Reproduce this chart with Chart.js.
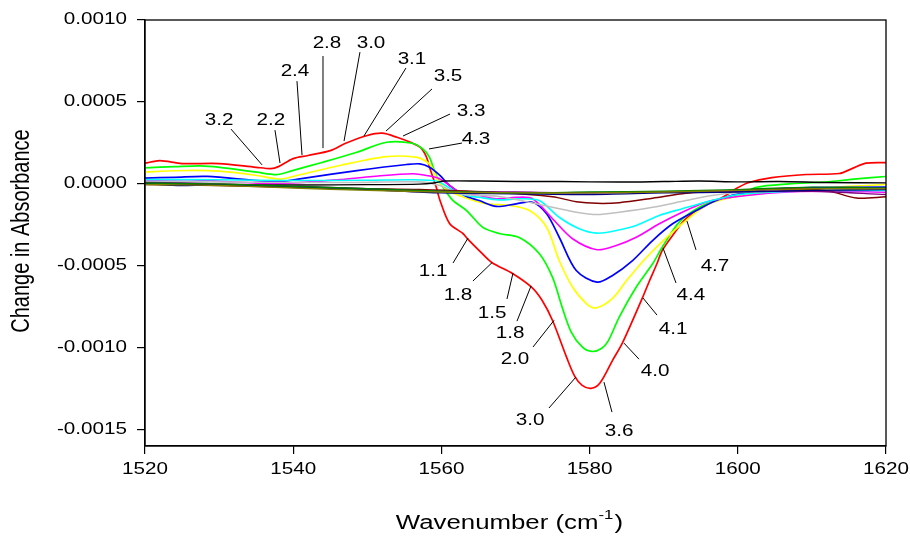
<!DOCTYPE html>
<html>
<head>
<meta charset="utf-8">
<script src="https://cdn.jsdelivr.net/npm/chart.js@4.4.1/dist/chart.umd.min.js"></script>
<style>
  html, body { margin: 0; padding: 0; background: #ffffff; }
  #wrap { width: 910px; height: 537px; }
</style>
</head>
<body>
<div id="wrap"><canvas id="c" width="910" height="537"></canvas></div>
<script>
// Axis ticks
const wavenumberTicks = [1520, 1540, 1560, 1580, 1600, 1620];
const wavenumberTickLabels = ['1520', '1540', '1560', '1580', '1600', '1620'];
const absorbanceTicks = [-0.0015, -0.0010, -0.0005, 0, 0.0005, 0.0010];
const absorbanceTickLabels = ['-0.0015', '-0.0010', '-0.0005', '0.0000', '0.0005', '0.0010'];

// Difference spectra (wavenumber in cm-1, change in absorbance)
const redWn  = [1520, 1522, 1525, 1530, 1535, 1537, 1538, 1540, 1542, 1545, 1547, 1550, 1552, 1554, 1556, 1557.2, 1558, 1558.4, 1558.85, 1559.3, 1559.8, 1561.1, 1562.9, 1563.5, 1565.1, 1566.8, 1569.6, 1572.2, 1573.6, 1575, 1576.9, 1578, 1579, 1580.2, 1581.4, 1583.1, 1584.4, 1587.1, 1588.1, 1589.1, 1589.8, 1591.2, 1593, 1595.7, 1597.9, 1599.8, 1601.5, 1604.6, 1609.2, 1613.7, 1615.4, 1617.3, 1620];
const redAbs = [1.26e-4, 1.42e-4, 1.24e-4, 1.24e-4, 1.01e-4, 0.93e-4, 1.05e-4, 1.54e-4, 1.73e-4, 2.03e-4, 2.46e-4, 2.95e-4, 3.09e-4, 2.84e-4, 2.50e-4, 2.21e-4, 1.62e-4, 1.01e-4, 0.40e-4, -0.20e-4, -1.0e-4, -2.42e-4, -3.03e-4, -3.34e-4, -4.07e-4, -4.80e-4, -5.47e-4, -6.32e-4, -7.12e-4, -8.34e-4, -10.59e-4, -11.75e-4, -12.30e-4, -12.48e-4, -12.15e-4, -10.77e-4, -9.74e-4, -6.99e-4, -5.90e-4, -4.86e-4, -4.07e-4, -3.15e-4, -2.12e-4, -1.32e-4, -0.84e-4, -0.29e-4, 0.08e-4, 0.38e-4, 0.57e-4, 0.63e-4, 0.93e-4, 1.26e-4, 1.30e-4];

const greenWn  = [1520, 1524, 1527.4, 1530.1, 1535.1, 1537.9, 1539.9, 1544, 1548.6, 1552.6, 1556.1, 1557.5, 1558.4, 1558.9, 1559.5, 1560.2, 1561.5, 1563.4, 1565.6, 1567.8, 1570.5, 1573.2, 1575, 1576.3, 1577.5, 1579, 1580.3, 1581.6, 1582.5, 1584, 1586.3, 1588.5, 1589.8, 1592.1, 1594.8, 1597.5, 1600.2, 1602.5, 1606.9, 1611.4, 1616, 1620];
const greenAbs = [0.98e-4, 1.05e-4, 1.10e-4, 1.01e-4, 0.71e-4, 0.57e-4, 0.81e-4, 1.32e-4, 1.93e-4, 2.54e-4, 2.48e-4, 2.13e-4, 1.62e-4, 1.00e-4, 0.30e-4, -0.20e-4, -0.99e-4, -1.63e-4, -2.66e-4, -3.03e-4, -3.27e-4, -4.25e-4, -5.71e-4, -7.54e-4, -9.03e-4, -9.95e-4, -10.23e-4, -10.05e-4, -9.60e-4, -8.13e-4, -6.30e-4, -4.88e-4, -3.87e-4, -2.34e-4, -1.43e-4, -0.98e-4, -0.71e-4, -0.21e-4, 0.0, 0.10e-4, 0.30e-4, 0.45e-4];

const yellowWn  = [1520, 1524, 1528.4, 1532, 1535.1, 1538.2, 1540.5, 1546.3, 1552.6, 1556.7, 1558.1, 1558.8, 1559.5, 1560.8, 1563.2, 1566.1, 1569.2, 1571.9, 1574.2, 1575.9, 1577.7, 1579.6, 1580.9, 1583.1, 1585, 1587.7, 1590.4, 1593, 1595.7, 1599.2, 1604.6, 1609.6, 1615, 1620];
const yellowAbs = [0.72e-4, 0.80e-4, 0.81e-4, 0.70e-4, 0.51e-4, 0.29e-4, 0.51e-4, 1.12e-4, 1.66e-4, 1.62e-4, 1.32e-4, 0.96e-4, 0.23e-4, -0.38e-4, -0.85e-4, -1.22e-4, -1.32e-4, -1.63e-4, -2.65e-4, -4.68e-4, -6.30e-4, -7.32e-4, -7.57e-4, -6.99e-4, -5.90e-4, -4.48e-4, -3.26e-4, -2.24e-4, -1.32e-4, -0.82e-4, -0.51e-4, -0.30e-4, -0.16e-4, -0.04e-4];

const blueWn  = [1520, 1524, 1528.4, 1535.1, 1538.2, 1541.8, 1548.6, 1555.3, 1557.1, 1558.4, 1559.8, 1561.1, 1563.1, 1565.1, 1567.4, 1570.1, 1572.3, 1574.2, 1575.9, 1578.2, 1581, 1583.1, 1585.8, 1588.5, 1591.2, 1594.4, 1597.1, 1600.2, 1605.6, 1611, 1620];
const blueAbs = [0.35e-4, 0.40e-4, 0.45e-4, 0.20e-4, 0.14e-4, 0.37e-4, 0.81e-4, 1.18e-4, 1.22e-4, 1.01e-4, 0.51e-4, -0.10e-4, -0.71e-4, -1.02e-4, -1.38e-4, -1.22e-4, -1.12e-4, -1.83e-4, -3.26e-4, -5.29e-4, -6.00e-4, -5.59e-4, -4.68e-4, -3.46e-4, -2.44e-4, -1.63e-4, -1.02e-4, -0.60e-4, -0.30e-4, -0.23e-4, -0.20e-4];

const magentaWn  = [1520, 1526, 1532.8, 1538.2, 1546.3, 1550.7, 1556.1, 1558, 1559.8, 1562.5, 1565.1, 1567.4, 1570.1, 1572.3, 1575, 1577.7, 1581, 1583.6, 1586.3, 1589.4, 1592.5, 1595.7, 1599.2, 1605.6, 1612, 1620];
const magentaAbs = [0.20e-4, 0.25e-4, 0.10e-4, 0.02e-4, 0.26e-4, 0.45e-4, 0.62e-4, 0.51e-4, 0.30e-4, -0.51e-4, -0.71e-4, -0.91e-4, -0.82e-4, -0.91e-4, -2.13e-4, -3.35e-4, -4.02e-4, -3.76e-4, -3.26e-4, -2.44e-4, -1.73e-4, -1.12e-4, -0.82e-4, -0.53e-4, -0.45e-4, -0.51e-4];

const cyanWn  = [1520, 1530, 1539.5, 1550, 1556, 1558.8, 1559.8, 1562.5, 1565.1, 1567.8, 1570.5, 1573.2, 1575.9, 1578.6, 1581, 1583.6, 1586.3, 1589.4, 1592.5, 1596.5, 1600.2, 1608, 1620];
const cyanAbs = [0.26e-4, 0.25e-4, 0.20e-4, 0.22e-4, 0.25e-4, 0.20e-4, 0.10e-4, -0.61e-4, -0.82e-4, -0.98e-4, -0.91e-4, -1.02e-4, -2.04e-4, -2.74e-4, -3.01e-4, -2.85e-4, -2.54e-4, -1.93e-4, -1.52e-4, -1.02e-4, -0.65e-4, -0.45e-4, -0.40e-4];

const grayWn  = [1520, 1535, 1547.6, 1557, 1559.8, 1562.5, 1567.8, 1575, 1578.2, 1581, 1584, 1588.5, 1593, 1596.5, 1600.2, 1610, 1620];
const grayAbs = [0.14e-4, 0.10e-4, 0.08e-4, 0.12e-4, -0.10e-4, -0.61e-4, -0.77e-4, -1.43e-4, -1.73e-4, -1.87e-4, -1.73e-4, -1.43e-4, -1.02e-4, -0.71e-4, -0.53e-4, -0.40e-4, -0.30e-4];

const maroonWn  = [1520, 1530, 1540.9, 1550, 1557, 1567.8, 1575, 1578.2, 1581, 1584, 1588.5, 1593, 1596.5, 1600.2, 1608.3, 1612.3, 1616, 1620];
const maroonAbs = [-0.04e-4, -0.10e-4, -0.22e-4, -0.30e-4, -0.35e-4, -0.53e-4, -0.79e-4, -1.09e-4, -1.19e-4, -1.15e-4, -0.88e-4, -0.58e-4, -0.48e-4, -0.38e-4, -0.32e-4, -0.44e-4, -0.87e-4, -0.79e-4];

const blackWn  = [1520, 1530, 1540.9, 1550, 1557, 1559, 1560.4, 1565.1, 1570, 1576, 1584, 1590, 1594.8, 1600, 1605.6, 1612, 1620];
const blackAbs = [-0.02e-4, -0.05e-4, -0.07e-4, -0.05e-4, -0.02e-4, 0.05e-4, 0.17e-4, 0.17e-4, 0.14e-4, 0.14e-4, 0.11e-4, 0.14e-4, 0.17e-4, 0.12e-4, 0.14e-4, 0.08e-4, 0.06e-4];

const baselineWn     = [1520, 1525, 1530, 1540, 1550, 1560, 1570, 1580, 1590, 1600, 1610, 1620];
const purpleAbs      = [0.08e-4, 0.05e-4, 0.0, -0.15e-4, -0.30e-4, -0.45e-4, -0.50e-4, -0.55e-4, -0.50e-4, -0.45e-4, -0.45e-4, -0.65e-4];
const navyAbs        = [0.02e-4, -0.10e-4, -0.05e-4, -0.20e-4, -0.35e-4, -0.55e-4, -0.60e-4, -0.65e-4, -0.55e-4, -0.50e-4, -0.40e-4, -0.35e-4];
const darkGreenAbs   = [0.05e-4, 0.02e-4, 0.0, -0.15e-4, -0.30e-4, -0.45e-4, -0.55e-4, -0.50e-4, -0.45e-4, -0.35e-4, -0.20e-4, -0.25e-4];
const oliveAbs       = [-0.05e-4, -0.06e-4, -0.10e-4, -0.25e-4, -0.40e-4, -0.50e-4, -0.55e-4, -0.55e-4, -0.50e-4, -0.40e-4, -0.30e-4, -0.30e-4];

// Callout labels: text position and leader line (x in cm-1, y in absorbance)
const calloutText = ['3.2', '2.2', '2.4', '2.8', '3.0', '3.1', '3.5', '3.3', '4.3', '1.1', '1.8', '1.5', '1.8', '2.0', '3.0', '3.6', '4.0', '4.1', '4.4', '4.7'];
const calloutTextAt = [[1529.99, 3.89e-4], [1537.0, 3.89e-4], [1540.24, 6.88e-4], [1544.56, 8.53e-4], [1550.5, 8.59e-4], [1556.03, 7.56e-4], [1560.89, 6.52e-4], [1564.0, 4.44e-4], [1564.67, 2.73e-4], [1558.87, -5.38e-4], [1562.24, -6.79e-4], [1566.83, -7.89e-4], [1569.26, -9.17e-4], [1569.93, -10.75e-4], [1571.96, -14.42e-4], [1583.97, -15.15e-4], [1588.83, -11.43e-4], [1591.26, -8.92e-4], [1593.68, -6.85e-4], [1596.92, -5.02e-4]];
const calloutFrom = [[1531.61, 3.34e-4], [1537.54, 3.28e-4], [1540.51, 6.27e-4], [1544.02, 7.80e-4], [1549.01, 8.04e-4], [1555.22, 7.07e-4], [1558.73, 5.79e-4], [1561.16, 4.26e-4], [1562.78, 2.49e-4], [1561.57, -4.83e-4], [1564.26, -5.93e-4], [1568.85, -7.03e-4], [1570.2, -8.38e-4], [1572.36, -9.96e-4], [1574.52, -13.68e-4], [1583.02, -13.93e-4], [1586.67, -10.7e-4], [1589.1, -8.01e-4], [1591.66, -6.05e-4], [1594.36, -4.03e-4]];
const calloutTo = [[1535.79, 1.16e-4], [1538.22, 1.27e-4], [1541.19, 1.76e-4], [1544.02, 2.18e-4], [1546.86, 2.61e-4], [1549.55, 2.92e-4], [1552.52, 3.22e-4], [1554.82, 2.92e-4], [1558.33, 2.13e-4], [1563.59, -3.31e-4], [1566.83, -4.81e-4], [1569.66, -5.45e-4], [1572.09, -6.24e-4], [1575.2, -8.33e-4], [1578.16, -11.79e-4], [1581.94, -12.1e-4], [1584.64, -9.72e-4], [1587.21, -6.97e-4], [1589.91, -3.92e-4], [1593.14, -2.27e-4]];

const FONT = '"Liberation Sans", Arial, sans-serif';
const STRETCH = 1.29;

function pts(xs, ys) { return xs.map((x, i) => ({ x: x, y: ys[i] })); }
function series(xs, ys, color, width) {
  return {
    data: pts(xs, ys),
    borderColor: color,
    borderWidth: width || 1.5,
    pointRadius: 0,
    fill: false,
    tension: 0.3
  };
}

const datasets = [
  series(baselineWn, oliveAbs, '#808000', 1.4),
  series(baselineWn, darkGreenAbs, '#008000', 1.4),
  series(baselineWn, navyAbs, '#000080', 1.4),
  series(baselineWn, purpleAbs, '#800080', 1.4),
  series(blackWn, blackAbs, '#000000', 1.4),
  series(maroonWn, maroonAbs, '#800000', 1.5),
  series(grayWn, grayAbs, '#c0c0c0', 1.6),
  series(cyanWn, cyanAbs, '#00ffff', 1.6),
  series(magentaWn, magentaAbs, '#ff00ff', 1.6),
  series(blueWn, blueAbs, '#0000ff', 1.7),
  series(yellowWn, yellowAbs, '#ffff00', 1.7),
  series(greenWn, greenAbs, '#00ff00', 1.7),
  series(redWn, redAbs, '#ff0000', 1.7)
];

function wideText(ctx, text, x, y, size, align) {
  ctx.save();
  ctx.translate(x, y);
  ctx.scale(STRETCH, 1);
  ctx.font = size + 'px ' + FONT;
  ctx.textAlign = align;
  ctx.textBaseline = 'middle';
  ctx.fillStyle = '#000000';
  ctx.fillText(text, 0, 0);
  ctx.restore();
}

const decorations = {
  id: 'decorations',
  afterDatasetsDraw(chart) {
    const { ctx, chartArea: a, scales } = chart;
    const xs = scales.x, ys = scales.y;
    // frame
    ctx.save();
    ctx.strokeStyle = '#000000';
    ctx.lineWidth = 1.3;
    ctx.strokeRect(a.left, a.top, a.right - a.left, a.bottom - a.top);
    // leader lines
    ctx.lineWidth = 1;
    ctx.beginPath();
    for (let i = 0; i < calloutText.length; i++) {
      ctx.moveTo(xs.getPixelForValue(calloutFrom[i][0]), ys.getPixelForValue(calloutFrom[i][1]));
      ctx.lineTo(xs.getPixelForValue(calloutTo[i][0]), ys.getPixelForValue(calloutTo[i][1]));
    }
    ctx.stroke();
    ctx.restore();
    // callout labels
    for (let i = 0; i < calloutText.length; i++) {
      wideText(ctx, calloutText[i], xs.getPixelForValue(calloutTextAt[i][0]), ys.getPixelForValue(calloutTextAt[i][1]), 16, 'center');
    }
  },
  afterDraw(chart) {
    const { ctx, chartArea: a, scales } = chart;
    const xs = scales.x, ys = scales.y;
    // tick labels
    wavenumberTicks.forEach((v, i) => {
      wideText(ctx, wavenumberTickLabels[i], xs.getPixelForValue(v), a.bottom + 24, 16, 'center');
    });
    absorbanceTicks.forEach((v, i) => {
      wideText(ctx, absorbanceTickLabels[i], a.left - 18, ys.getPixelForValue(v), 16, 'right');
    });
    // x axis title with superscript
    ctx.save();
    const size = 20;
    ctx.font = size + 'px ' + FONT;
    const main = 'Wavenumber (cm';
    const sup = '-1';
    const tail = ')';
    const wMain = ctx.measureText(main).width;
    ctx.font = '13px ' + FONT;
    const wSup = ctx.measureText(sup).width;
    ctx.font = size + 'px ' + FONT;
    const wTail = ctx.measureText(tail).width;
    const total = (wMain + wSup + wTail + 1) * STRETCH;
    const cx = (a.left + a.right) / 2 - 6;
    const x0 = cx - total / 2;
    const yT = 523;
    ctx.restore();
    wideText(ctx, main, x0, yT, size, 'left');
    ctx.save();
    ctx.translate(x0 + wMain * STRETCH, yT - 8);
    ctx.scale(STRETCH, 1);
    ctx.font = '13px ' + FONT;
    ctx.textAlign = 'left';
    ctx.textBaseline = 'middle';
    ctx.fillStyle = '#000000';
    ctx.fillText(sup, 0, 0);
    ctx.restore();
    wideText(ctx, tail, x0 + (wMain + wSup + 1) * STRETCH, yT, size, 'left');
    // y axis title
    ctx.save();
    ctx.translate(22, (a.top + a.bottom) / 2 - 2);
    ctx.scale(STRETCH, 1);
    ctx.rotate(-Math.PI / 2);
    ctx.font = '20px ' + FONT;
    ctx.textAlign = 'center';
    ctx.textBaseline = 'middle';
    ctx.fillStyle = '#000000';
    ctx.fillText('Change in Absorbance', 0, 0);
    ctx.restore();
  }
};

new Chart(document.getElementById('c'), {
  type: 'line',
  data: { datasets: datasets },
  options: {
    responsive: false,
    animation: false,
    events: [],
    layout: { padding: { left: 0, right: 24, top: 20, bottom: 0 } },
    plugins: { legend: { display: false }, tooltip: { enabled: false } },
    scales: {
      x: {
        type: 'linear',
        min: 1520,
        max: 1620,
        afterBuildTicks(s) { s.ticks = wavenumberTicks.map(v => ({ value: v })); },
        afterFit(s) { s.height = 91; },
        ticks: { display: false },
        grid: { drawOnChartArea: false, drawTicks: true, tickLength: 8, color: '#000000', lineWidth: 1.2 },
        border: { display: true, color: '#000000', width: 1.3 }
      },
      y: {
        type: 'linear',
        min: -0.0016,
        max: 0.0010,
        afterBuildTicks(s) { s.ticks = absorbanceTicks.map(v => ({ value: v })); },
        afterFit(s) { s.width = 145; },
        ticks: { display: false },
        grid: { drawOnChartArea: false, drawTicks: true, tickLength: 8, color: '#000000', lineWidth: 1.2 },
        border: { display: true, color: '#000000', width: 1.3 }
      }
    }
  },
  plugins: [decorations]
});
</script>
</body>
</html>
